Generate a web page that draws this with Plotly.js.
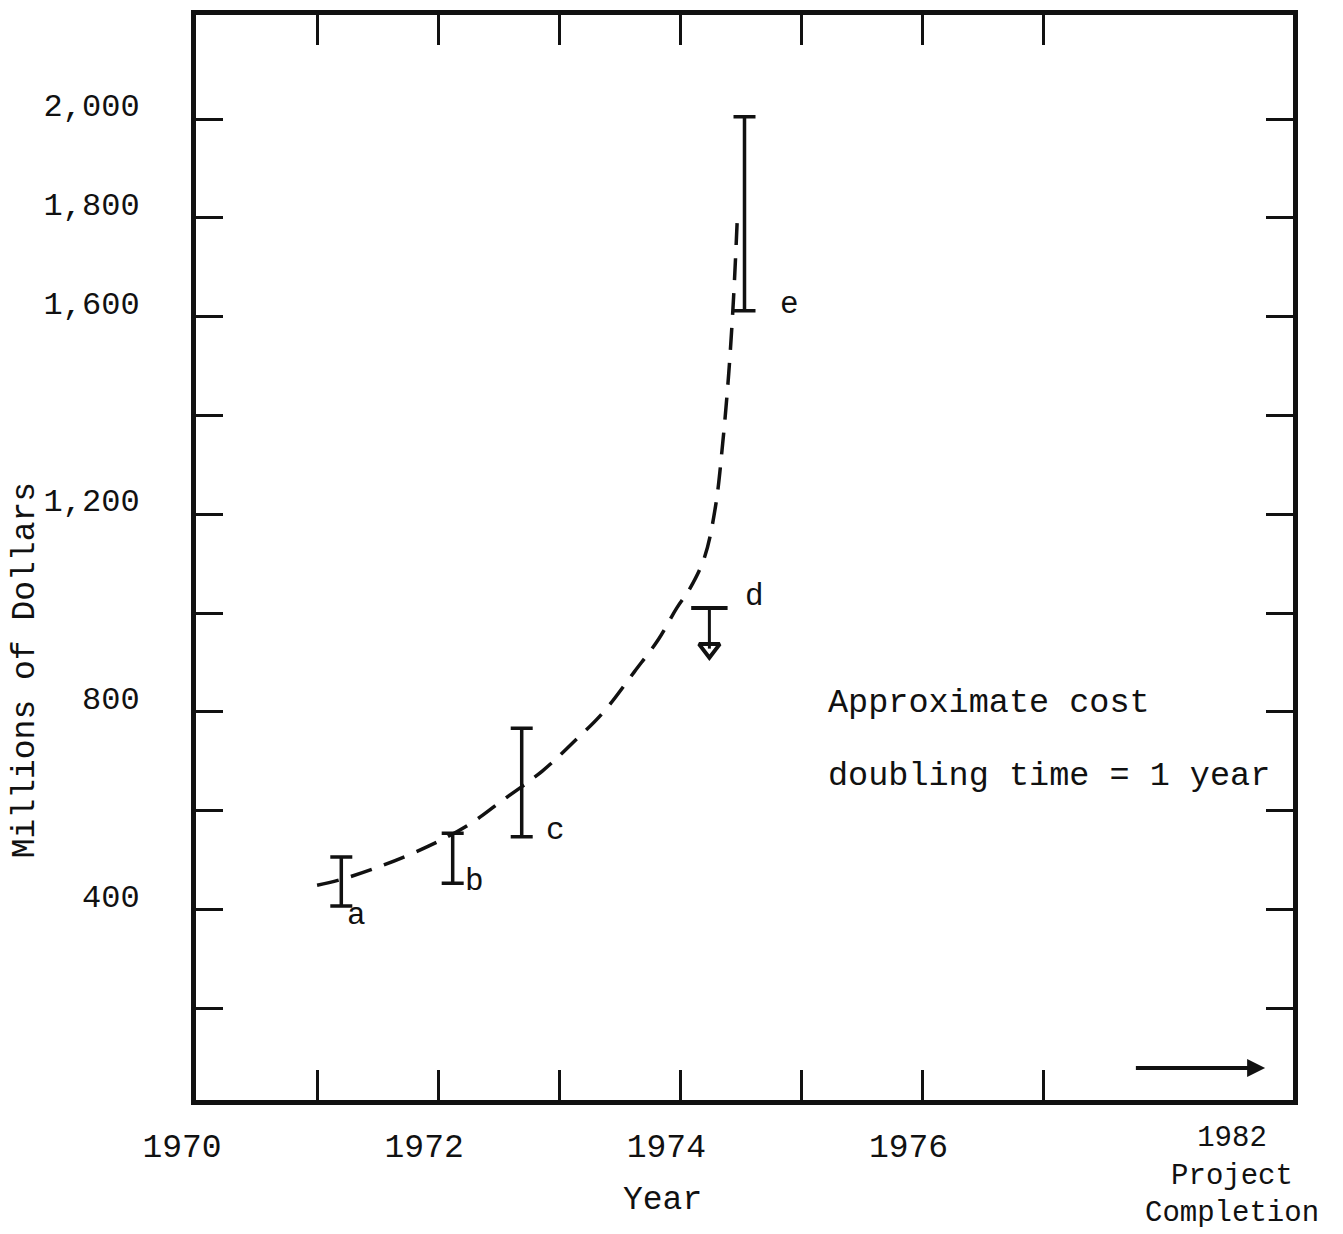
<!DOCTYPE html>
<html>
<head>
<meta charset="utf-8">
<script src="https://cdn.plot.ly/plotly-3.0.1.min.js"></script>
<style>html,body{margin:0;padding:0;background:#fff;}#chart{width:1343px;height:1234px;}</style>
</head>
<body>
<div id="chart"></div>
<script>
// ---- data ----
var xTickYears  = [1970, 1971, 1972, 1973, 1974, 1975, 1976, 1977];
var xTickLabels = ['1970', '', '1972', '', '1974', '', '1976', ''];
var yTickValues = [200, 400, 600, 800, 1000, 1200, 1400, 1600, 1800, 2000];
var yTickLabels = ['', '400', '', '800', '', '1,200', '', '1,600', '1,800', '2,000'];

// range estimates (millions of dollars)
var estLabels = ['a', 'b', 'c', 'e'];
var estYears  = [1971.20, 1972.12, 1972.69, 1974.53];
var estLow    = [407, 453, 547, 1612];
var estHigh   = [506, 554, 767, 2005];

// estimate d: upper bound with downward arrow
var dLabel = 'd';
var dYear  = 1974.24;
var dTop   = 1010;
var dTip   = 928;

// fitted curve (cost doubling ~1 year)
var curveYears  = [1971.0, 1971.19, 1971.53, 1971.92, 1972.25, 1972.51, 1972.86, 1973.11, 1973.36, 1973.62, 1973.82, 1973.97, 1974.08, 1974.2, 1974.29, 1974.35, 1974.4, 1974.44, 1974.47];
var curveValues = [449, 460, 488, 528, 571, 617, 680, 737, 798, 881, 947, 1010, 1050, 1113, 1215, 1344, 1486, 1640, 1796];

var noteLines = ['Approximate cost', 'doubling time = 1 year'];
var noteYear = 1975.2;
var noteValues = [818, 670];

var completionLines = ['1982', 'Project', 'Completion'];

var arrowFrom = [1977.75, 79];
var arrowTo   = [1978.83, 79];

// ---- styling ----
var FONT = 'Liberation Mono, Courier New, monospace';
var INK = '#111';

var traces = [
  {
    x: curveYears, y: curveValues, type: 'scatter', mode: 'lines',
    line: {color: INK, width: 3.5, dash: '22px,13px', shape: 'spline'},
    hoverinfo: 'skip', showlegend: false
  },
  {
    x: estYears, y: estLow, type: 'scatter', mode: 'markers',
    marker: {size: 2, color: 'rgba(0,0,0,0)'},
    error_y: {
      type: 'data', symmetric: false,
      array: estHigh.map(function (h, i) { return h - estLow[i]; }),
      arrayminus: estLow.map(function () { return 0; }),
      color: INK, thickness: 3.5, width: 11
    },
    showlegend: false
  },
  {
    x: [dYear, dYear], y: [dTop, dTip], type: 'scatter', mode: 'lines+markers',
    line: {color: INK, width: 3},
    marker: {symbol: ['line-ew-open', 'triangle-down-open'], size: [26, 18],
             color: INK, opacity: 1, line: {color: INK, width: 4}},
    showlegend: false
  }
];

var annotations = [];
var labelShift = {a: [4, -10], b: [10, 2], c: [22, 6], e: [33, 6]};
estLabels.forEach(function (lab, i) {
  annotations.push({
    x: estYears[i], y: estLow[i], xref: 'x', yref: 'y', text: lab, showarrow: false,
    xanchor: 'left', yanchor: 'middle', xshift: labelShift[lab][0], yshift: labelShift[lab][1],
    font: {family: FONT, size: 31, color: INK}
  });
});
annotations.push({
  x: dYear, y: dTop, xref: 'x', yref: 'y', text: dLabel, showarrow: false,
  xanchor: 'left', yanchor: 'middle', xshift: 34, yshift: 12,
  font: {family: FONT, size: 31, color: INK}
});
noteLines.forEach(function (t, i) {
  annotations.push({
    x: noteYear, y: noteValues[i], xref: 'x', yref: 'y', text: t, showarrow: false,
    xanchor: 'left', yanchor: 'middle', font: {family: FONT, size: 33.5, color: INK}
  });
});
annotations.push({
  x: arrowTo[0], y: arrowTo[1], ax: arrowFrom[0], ay: arrowFrom[1],
  xref: 'x', yref: 'y', axref: 'x', ayref: 'y', text: '', showarrow: true,
  arrowhead: 2, arrowsize: 0.9, arrowwidth: 4, arrowcolor: INK
});
annotations.push({
  x: 0.4257, y: -0.0925, xref: 'paper', yref: 'paper', text: 'Year', showarrow: false,
  xanchor: 'center', yanchor: 'middle', font: {family: FONT, size: 33, color: INK}
});
annotations.push({
  x: -0.156, y: 0.396, xref: 'paper', yref: 'paper', text: 'Millions of Dollars', showarrow: false,
  textangle: -90, xanchor: 'center', yanchor: 'middle', font: {family: FONT, size: 33, color: INK}
});
annotations.push({
  x: 0.944, y: -0.0705, xref: 'paper', yref: 'paper', text: completionLines.join('<br>'), showarrow: false,
  xanchor: 'center', yanchor: 'middle', align: 'center', font: {family: FONT, size: 29, color: INK}
});

var layout = {
  width: 1343, height: 1234,
  margin: {l: 196, r: 50, t: 15, b: 134, pad: 0},
  paper_bgcolor: '#fff', plot_bgcolor: '#fff',
  showlegend: false,
  xaxis: {
    range: [1970.0, 1979.06], tickmode: 'array', tickvals: xTickYears, ticktext: xTickLabels,
    ticks: 'inside', ticklen: 30, tickwidth: 3, tickcolor: INK,
    showline: true, linewidth: 5, linecolor: INK, mirror: 'ticks',
    showgrid: false, zeroline: false,
    tickfont: {family: FONT, size: 33, color: INK},
    ticklabelshift: -14, ticklabelstandoff: 12
  },
  yaxis: {
    range: [14, 2211], tickmode: 'array', tickvals: yTickValues, ticktext: yTickLabels,
    ticks: 'inside', ticklen: 27, tickwidth: 3, tickcolor: INK,
    showline: true, linewidth: 5, linecolor: INK, mirror: 'ticks',
    showgrid: false, zeroline: false,
    tickfont: {family: FONT, size: 32, color: INK},
    ticklabelshift: -14, ticklabelstandoff: 45
  },
  annotations: annotations
};

Plotly.newPlot('chart', traces, layout, {displayModeBar: false, staticPlot: true});
</script>
</body>
</html>
